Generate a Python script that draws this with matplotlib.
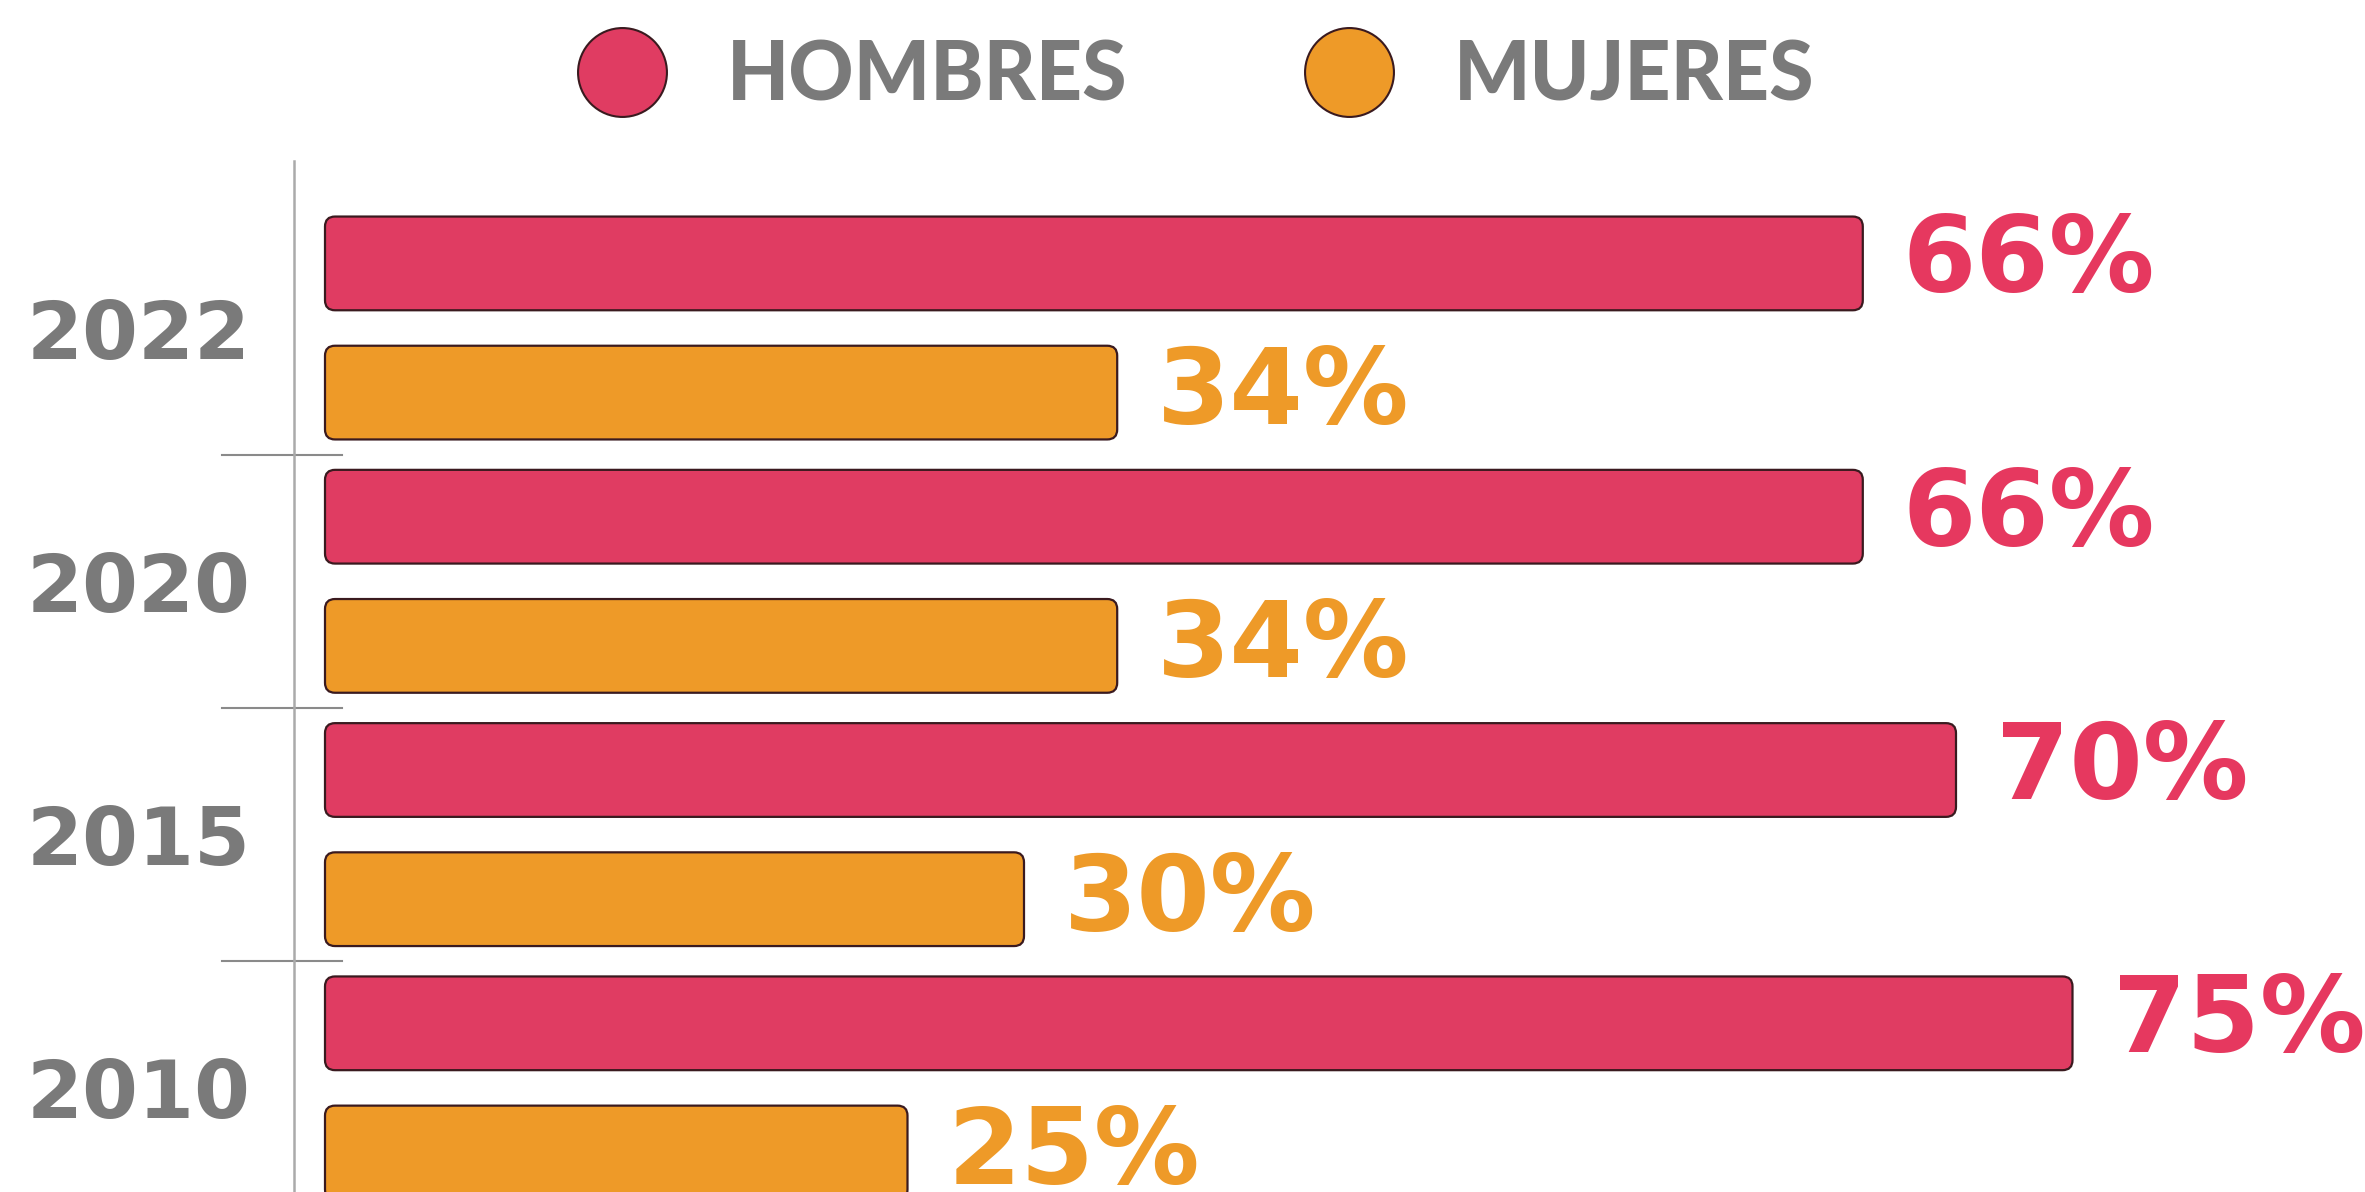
import matplotlib
matplotlib.use("Agg")
import matplotlib.pyplot as plt
from matplotlib.patches import FancyBboxPatch
from matplotlib.lines import Line2D

years = ["2022", "2020", "2015", "2010"]
hombres = [66, 66, 70, 75]
mujeres = [34, 34, 30, 25]
series_names = ["HOMBRES", "MUJERES"]

RED = "#E03C62"
ORANGE = "#EE9A28"
EDGE = "#3a1a1f"
GREY = "#7a7a7a"
AXGREY = "#aaaaaa"

W, H = 2365, 1192
fig = plt.figure(figsize=(W / 100, H / 100), dpi=100)
# axes box in pixels
left_px, right_px, top_px, bot_px = 294, 2365, 161, 1192
ax = fig.add_axes([left_px / W, 1 - bot_px / H, (right_px - left_px) / W, (bot_px - top_px) / H])

px_per_unit = 23.3
x0 = -(325 - left_px) / px_per_unit
ax.set_xlim(x0, x0 + (right_px - left_px) / px_per_unit)
grp_px = 253.3
gc0 = 328.0
ax.set_ylim((bot_px - gc0) / grp_px, (top_px - gc0) / grp_px)

off = 0.255
bh = 0.37
pos = list(range(len(years)))
red_y = [p - off for p in pos]
ora_y = [p + off for p in pos]

bars_r = ax.barh(red_y, hombres, height=bh, color=RED, alpha=0)
bars_o = ax.barh(ora_y, mujeres, height=bh, color=ORANGE, alpha=0)

# aspect for rounded corners: data y-units per pixel / x-units per pixel
aspect = (1 / grp_px) / (1 / px_per_unit)
rad = 10 / px_per_unit
for bars, col in ((bars_r, RED), (bars_o, ORANGE)):
    for b in bars:
        x, y, w, h = b.get_x(), b.get_y(), b.get_width(), b.get_height()
        p = FancyBboxPatch((x, y), w, h,
                           boxstyle=f"round,pad=0,rounding_size={rad}",
                           mutation_aspect=aspect,
                           facecolor=col, edgecolor=EDGE, linewidth=1.6,
                           clip_on=False)
        ax.add_patch(p)

lab_off = 40 / px_per_unit
for y, v in zip(red_y, hombres):
    ax.text(v + lab_off, y, f"{v}%", color="#E6385F", fontsize=76,
            fontweight="bold", family="DejaVu Sans", va="center", ha="left")
for y, v in zip(ora_y, mujeres):
    ax.text(v + lab_off, y + 0.01, f"{v}%", color=ORANGE, fontsize=76,
            fontweight="bold", family="DejaVu Sans", va="center", ha="left")

# separators between groups
for i in range(len(years) - 1):
    ax.plot([x0 - 72 / px_per_unit, x0 + 48 / px_per_unit], [i + 0.5, i + 0.5],
            color="#8a8a8a", lw=1.5, clip_on=False)

ax.set_yticks(pos)
ax.set_yticklabels(years, fontsize=58, fontweight="bold", color=GREY,
                   family="DejaVu Sans")
ax.tick_params(axis="y", length=0, pad=31)
ax.set_xticks([])
for s in ("top", "right", "bottom"):
    ax.spines[s].set_visible(False)
ax.spines["left"].set_color(AXGREY)
ax.spines["left"].set_linewidth(1.8)

handles = [Line2D([], [], marker="o", linestyle="none", markersize=64,
                  markerfacecolor=c, markeredgecolor=EDGE, markeredgewidth=1.5)
           for c in (RED, ORANGE)]
leg = fig.legend(handles, series_names, loc="center", ncol=2,
                 bbox_to_anchor=(1196 / W, 1 - 77 / H), frameon=False,
                 prop={"family": "Lato", "weight": "black", "size": 58},
                 handlelength=1.1, handletextpad=0.75, columnspacing=2.2,
                 borderpad=0)
for t in leg.get_texts():
    t.set_color(GREY)

fig.savefig("out.png", dpi=100)
